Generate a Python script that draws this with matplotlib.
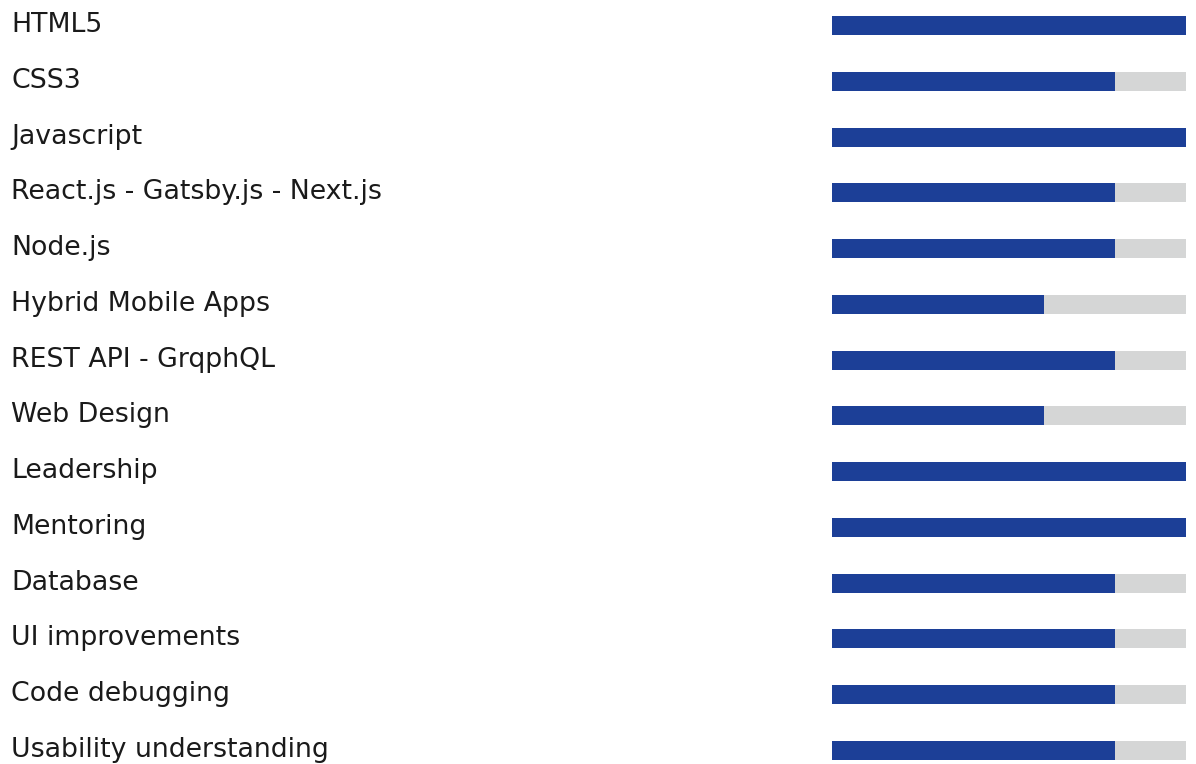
import matplotlib
matplotlib.use("Agg")
import matplotlib.pyplot as plt
from matplotlib.transforms import blended_transform_factory

# skill list and level (percent)
skills = [
    "HTML5", "CSS3", "Javascript", "React.js - Gatsby.js - Next.js",
    "Node.js", "Hybrid Mobile Apps", "REST API - GrqphQL", "Web Design",
    "Leadership", "Mentoring", "Database", "UI improvements",
    "Code debugging", "Usability understanding",
]
levels = [100, 80, 100, 80, 80, 60, 80, 60, 100, 100, 80, 80, 80, 80]
full = 100

W, H = 1196, 764
fig = plt.figure(figsize=(W / 100, H / 100), dpi=100)
ax = fig.add_axes([0, 0, 1, 1])

# map bar start/end to pixel columns 832 / 1186
px_per = (1186 - 832) / full
ax.set_xlim(-832 / px_per, (W - 832) / px_per)
step = (750.5 - 25.5) / (len(skills) - 1)
ax.set_ylim((H - 25.5) / step, -25.5 / step)

ypos = list(range(len(skills)))
ax.barh(ypos, [full] * len(skills), height=19 / step, color="#d5d6d6", linewidth=0)
ax.barh(ypos, levels, height=19 / step, color="#1c3f97", linewidth=0)

tr = blended_transform_factory(ax.transAxes, ax.transData)
for y, name in zip(ypos, skills):
    ax.text(11 / W, y + 6.5 / step, name, transform=tr, ha="left", va="baseline",
            fontsize=19.3, family="DejaVu Sans", color="#1a1a1a")

ax.axis("off")
fig.savefig("out.png", dpi=100)
